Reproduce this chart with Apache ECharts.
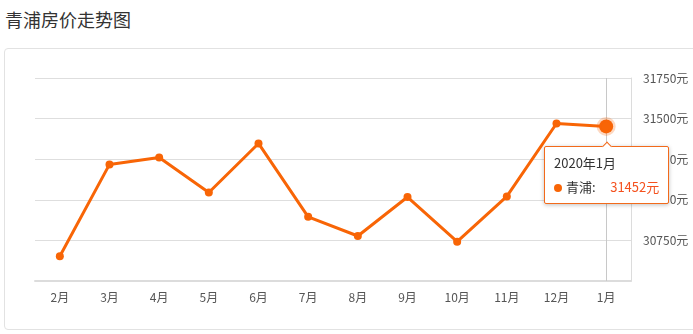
<!DOCTYPE html>
<html>
<head>
<meta charset="utf-8">
<script src="https://cdn.jsdelivr.net/npm/echarts@6/dist/echarts.min.js"></script>
<style>
  html, body { margin: 0; padding: 0; background: #fff; width: 693px; height: 334px; overflow: hidden; font-family: "Noto Sans CJK SC", "Noto Sans", sans-serif; }
  #title { position: absolute; left: 5px; top: 6px; font-size: 18px; color: #333; }
  #box { position: absolute; left: 4px; top: 48px; width: 720px; height: 280px; border: 1px solid #e2e2e2; border-radius: 4px; }
  #chart { position: absolute; left: 0; top: 0; width: 693px; height: 334px; }
</style>
</head>
<body>
<div id="title">青浦房价走势图</div>
<div id="box"></div>
<div id="chart"></div>
<script>
const categories = ['2月', '3月', '4月', '5月', '6月', '7月', '8月', '9月', '10月', '11月', '12月', '1月'];
const fullLabels = ['2019年2月', '2019年3月', '2019年4月', '2019年5月', '2019年6月', '2019年7月', '2019年8月', '2019年9月', '2019年10月', '2019年11月', '2019年12月', '2020年1月'];
const prices = [30652, 31218, 31261, 31045, 31347, 30895, 30777, 31017, 30742, 31021, 31470, 31452];
const seriesName = '青浦';
const yMin = 30500, yMax = 31750, yStep = 250;

const lineColor = '#f86506';
const chart = echarts.init(document.getElementById('chart'));
const data = prices.map((v, i) => i === prices.length - 1
  ? { value: v, symbolSize: 14, itemStyle: { color: lineColor, borderColor: 'rgba(248,101,6,0.25)', borderWidth: 5 } }
  : v);

chart.setOption({
  animation: false,
  textStyle: { fontFamily: '"Noto Sans CJK SC", "Noto Sans", sans-serif' },
  grid: { left: 35, right: 62, top: 78, bottom: 53 },
  tooltip: {
    trigger: 'item',
    triggerOn: 'none',
    alwaysShowContent: true,
    position: 'bottom',
    backgroundColor: '#fff',
    borderColor: '#f26a1b',
    borderWidth: 1,
    padding: [4, 9],
    extraCssText: 'box-shadow: 0 1px 4px rgba(0,0,0,0.25); border-radius: 2px;',
    textStyle: { color: '#333', fontSize: 13 },
    formatter: function (p) {
      return '<div style="line-height:24px;font-size:13px">' + fullLabels[p.dataIndex] + '</div>' +
        '<div style="line-height:24px;font-size:13px">' + p.marker.replace('width:10px;height:10px', 'width:8px;height:8px') + seriesName + ':&nbsp;&nbsp;&nbsp;&nbsp;&nbsp;<span style="color:#f4511e">' + p.value + '元</span></div>';
    }
  },
  xAxis: {
    type: 'category',
    data: categories,
    boundaryGap: true,
    axisLine: { lineStyle: { color: '#dcdcdc', width: 2 } },
    axisTick: { alignWithLabel: true, length: 5, lineStyle: { color: '#d0d0d0' } },
    axisLabel: { color: '#555', fontSize: 12, margin: 10 },
    axisPointer: {
      show: true, value: 11, status: 'show', type: 'line', triggerTooltip: false, z: 1,
      lineStyle: { color: '#c8c8c8', width: 1, type: 'solid' }, label: { show: false }
    }
  },
  yAxis: {
    type: 'value',
    position: 'right',
    min: yMin, max: yMax, interval: yStep,
    axisLine: { show: true, lineStyle: { color: '#dcdcdc', width: 1 } },
    axisTick: { show: false },
    axisLabel: { color: '#555', fontSize: 12, margin: 12, showMinLabel: false, formatter: function (v) { return v + '元'; } },
    splitLine: { lineStyle: { color: '#dedede', width: 1 } }
  },
  series: [{
    name: seriesName,
    type: 'line',
    z: 5,
    data: data,
    symbol: 'circle',
    symbolSize: 8,
    lineStyle: { color: lineColor, width: 3 },
    itemStyle: { color: lineColor },
    emphasis: { disabled: true }
  }]
});
chart.dispatchAction({ type: 'showTip', seriesIndex: 0, dataIndex: 11 });
</script>
</body>
</html>
